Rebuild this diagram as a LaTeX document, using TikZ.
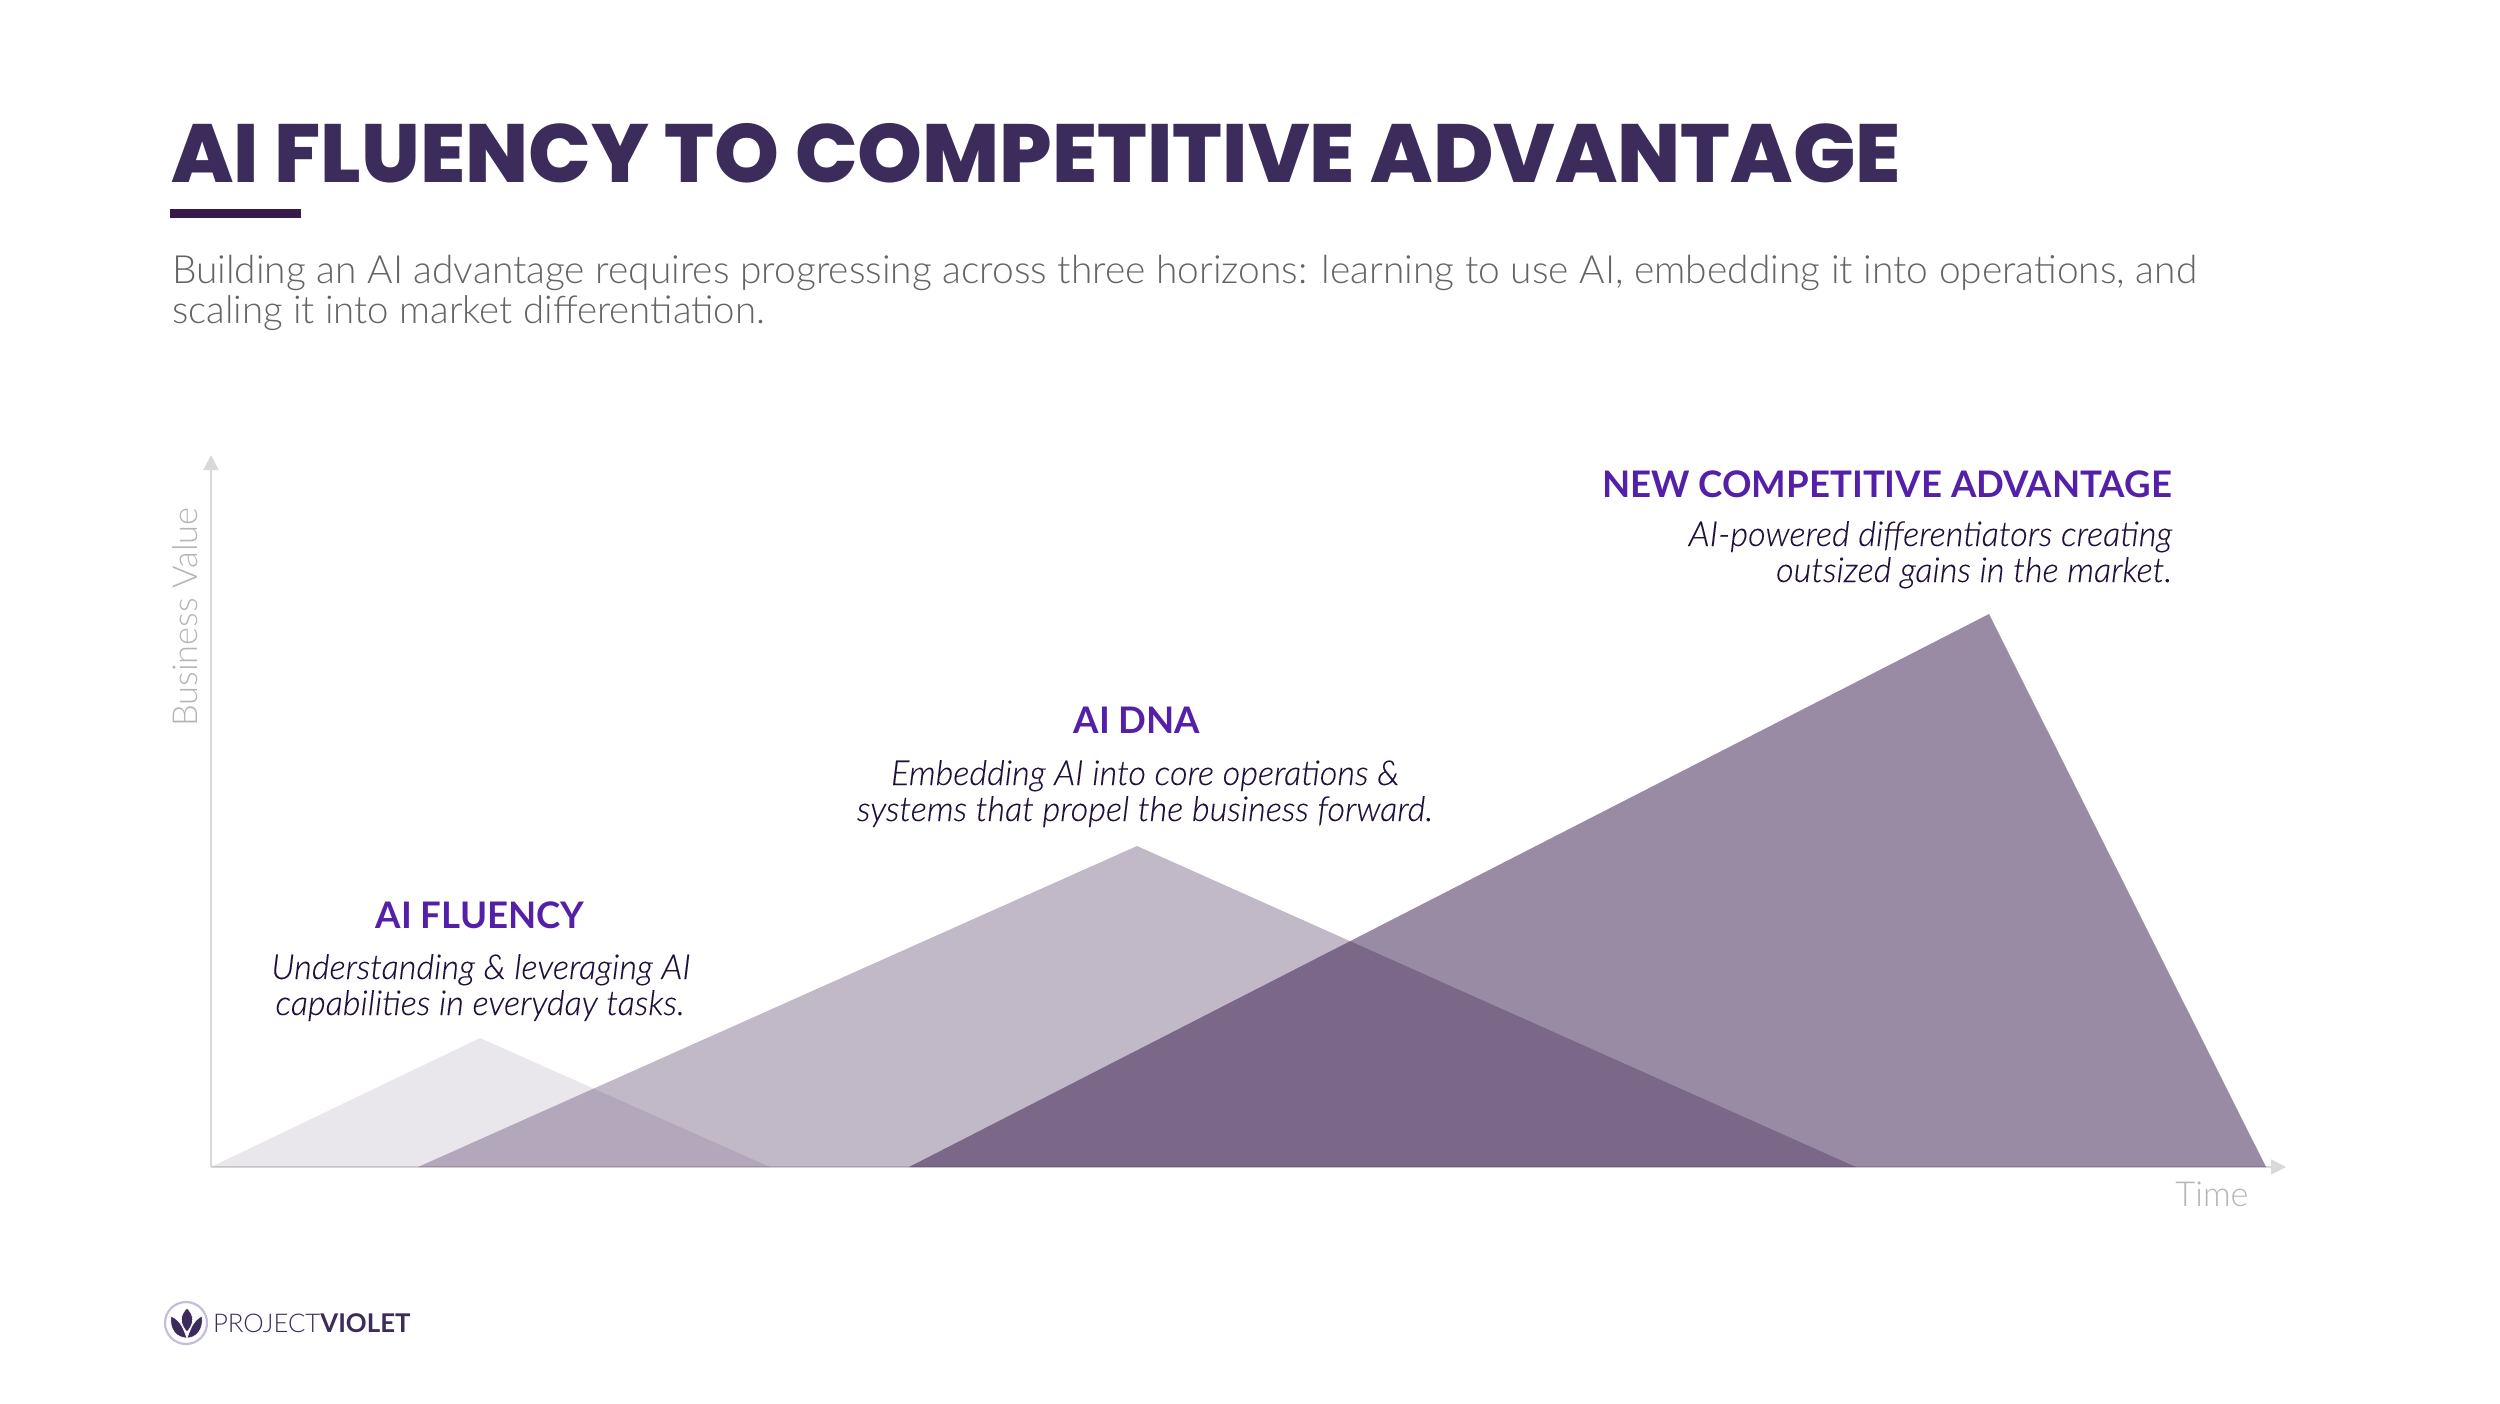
\documentclass[tikz,border=0pt]{standalone}
\usepackage{fontspec}
\usetikzlibrary{arrows.meta}
\setmainfont{Lato}
\newfontfamily\titlefont{Poppins ExtraBold}
\newfontfamily\headfont{Lato}[BoldFont={Lato Bold}]
\newfontfamily\lightfont{Lato Light}[ItalicFont={Lato Light Italic},ItalicFeatures={FakeBold=0.15}]
\definecolor{titlecol}{HTML}{3C2C5C}
\definecolor{rulecol}{HTML}{371A4B}
\definecolor{subcol}{HTML}{646464}
\definecolor{axiscol}{HTML}{D9D9D9}
\definecolor{axistext}{HTML}{B5B5B5}
\definecolor{headcol}{HTML}{5520A8}
\definecolor{desccol}{HTML}{21103C}
\definecolor{wedge}{HTML}{35194A}
\definecolor{ringcol}{HTML}{C4BEDA}
\tikzset{
  x=0.5pt,y=-0.5pt,
  txt/.style={inner sep=0pt,outer sep=0pt},
  head/.style={txt,anchor=base,font=\headfont\bfseries\fontsize{18.3}{23}\selectfont,text=headcol},
  desc/.style={txt,anchor=base,font=\lightfont\itshape\fontsize{17.15}{18}\selectfont,text=desccol},
  axisline/.style={draw=axiscol,line width=.7pt,-{Triangle[length=7.5pt,width=7.5pt]}},
  axislabel/.style={txt,font=\lightfont\fontsize{17.2}{20}\selectfont,text=axistext},
  wedgeshape/.style={fill=wedge,draw=none},
  petal/.style={fill=titlecol,draw=white,line width=.3pt}
}
\begin{document}
\begin{tikzpicture}
\useasboundingbox (0,0) rectangle (2500,1403);
\fill[white] (0,0) rectangle (2500,1403);
% title
\node[txt,anchor=base west,text=titlecol,font=\titlefont\fontsize{41.27}{48}\selectfont] (title) at (171,182) {AI FLUENCY TO COMPETITIVE ADVANTAGE};
\fill[rulecol] (170,209) rectangle (301,218);
\node[txt,anchor=base west,text=subcol,font=\lightfont\fontsize{19.45}{20}\selectfont] (sub1) at (172,283.5) {Building an AI advantage requires progressing across three horizons: learning to use AI, embedding it into operations, and};
\node[txt,anchor=base west,text=subcol,font=\lightfont\fontsize{19.2}{20}\selectfont] (sub2) at (172,323.5) {scaling it into market differentiation.};
% axes
\coordinate (origin) at (211,1167);
\coordinate (ytip) at (211,455);
\coordinate (xtip) at (2286,1167);
\draw[axisline] (origin) -- (ytip);
\draw[axisline] (origin) -- (xtip);
% wedges
\fill[wedgeshape,opacity=.1] (211,1167) -- (480,1038) -- (770,1167) -- cycle;
\fill[wedgeshape,opacity=.3] (418,1167) -- (1137,846) -- (1856,1167) -- cycle;
\fill[wedgeshape,opacity=.5] (909,1167) -- (1989,614) -- (2266,1167) -- cycle;
% axis labels
\node[axislabel,anchor=base,rotate=90] (yl) at (197,617) {Business Value};
\node[axislabel,anchor=base] (xl) at (2212,1206) {Time};
% labels
\node[head] (h1) at (480,928) {AI FLUENCY};
\node[desc] (d1a) at (481,979) {Understanding \& leveraging AI};
\node[desc] (d1b) at (480,1015) {capabilities in everyday tasks.};
\node[head] (h2) at (1137,733) {AI DNA};
\node[desc] (d2a) at (1145,785) {Embedding AI into core operations \&};
\node[desc] (d2b) at (1145,821) {systems that propel the business forward.};
\node[head,anchor=base east] (h3) at (2172,497) {NEW COMPETITIVE ADVANTAGE};
\node[desc,anchor=base east] (d3a) at (2172,546) {AI-powered differentiators creating};
\node[desc,anchor=base east] (d3b) at (2172,582) {outsized gains in the market.};
% logo
\draw[ringcol,line width=1.1pt] (186,1323) circle (21);
\fill[petal] (171,1316) .. controls (169,1330) and (177,1338) .. (187,1338) .. controls (184,1331) and (182,1321) .. (171,1316) -- cycle;
\fill[petal] (202,1316) .. controls (204,1330) and (196,1338) .. (187,1338) .. controls (190,1331) and (192,1321) .. (202,1316) -- cycle;
\fill[petal] (187,1308) .. controls (180,1315) and (179,1323) .. (187,1332) .. controls (195,1323) and (194,1315) .. (187,1308) -- cycle;
\node[txt,anchor=base west,text=titlecol,font=\fontsize{12.9}{14}\selectfont] (logo) at (213,1332) {{\lightfont PROJECT}{\headfont\bfseries VIOLET}};
\end{tikzpicture}
\end{document}
